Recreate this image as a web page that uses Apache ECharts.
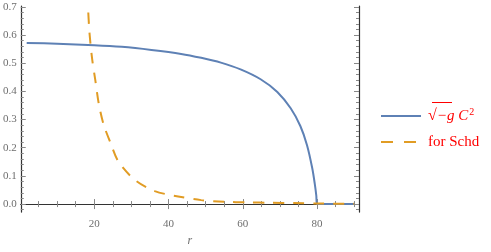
<!DOCTYPE html>
<html><head><meta charset="utf-8">
<script src="https://cdn.jsdelivr.net/npm/echarts@6/dist/echarts.min.js"></script>
<style>html,body{margin:0;padding:0;background:#fff}#c{width:491px;height:252px}</style>
</head><body><div id="c"></div>
<script>
// data
const blueR = [1.8, 10, 20, 27.4, 35.4, 43.4, 48.8, 54.1, 59.4, 64.8, 69.3, 72.9, 75.5, 77.3, 78.7, 79.4, 79.8, 80, 85, 90];
const blueV = [0.572, 0.569, 0.564, 0.558, 0.547, 0.533, 0.519, 0.502, 0.478, 0.443, 0.398, 0.340, 0.277, 0.209, 0.128, 0.071, 0.030, 0, 0, 0];
const schdR = [18, 18.3, 18.7, 19.4, 20.3, 21.2, 22.5, 24.3, 26.5, 31.0, 36.3, 42.6, 48.8, 55.0, 61.3, 67.5, 73.7, 80, 90];
const schdV = [0.75, 0.70, 0.610, 0.518, 0.438, 0.357, 0.283, 0.220, 0.151, 0.085, 0.046, 0.027, 0.014, 0.008, 0.006, 0.0048, 0.0034, 0.002, 0.001];
const seriesNames = ['sqrtg', 'for Schd'];
const xMajorTicks = [20, 40, 60, 80];
const xMinorTicks = [5, 10, 15, 25, 30, 35, 45, 50, 55, 65, 70, 75, 85, 90];
const yMajorTicks = [0, 0.1, 0.2, 0.3, 0.4, 0.5, 0.6, 0.7];
const yMinorTicks = [-0.02, 0.02, 0.04, 0.06, 0.08, 0.12, 0.14, 0.16, 0.18, 0.22, 0.24, 0.26, 0.28, 0.32, 0.34, 0.36, 0.38, 0.42, 0.44, 0.46, 0.48, 0.52, 0.54, 0.56, 0.58, 0.62, 0.64, 0.66, 0.68];
const xLabel = 'r';

const X_MIN = 0.2, X_MAX = 91.3, Y_MIN = -0.0285, Y_MAX = 0.703;
const FRAME = '#333', TICK = '#888', LABEL = '#6e6e6e', SERIF = 'Liberation Serif';
const BLUE = '#5E81B5', ORANGE = '#E19C24';

function xAx(pos, ticks, len, line, labels) {
  return {
    type: 'value', position: pos, min: X_MIN, max: X_MAX,
    axisLine: {show: line, lineStyle: {color: FRAME, width: 1.2}},
    axisTick: {show: true, inside: true, length: len, customValues: ticks, lineStyle: {color: TICK, width: 1}},
    axisLabel: labels ? {show: true, customValues: ticks, color: LABEL, fontFamily: SERIF, fontSize: 11, margin: 7} : {show: false},
    splitLine: {show: false}
  };
}
function yAx(pos, ticks, len, line, labels) {
  return {
    type: 'value', position: pos, min: Y_MIN, max: Y_MAX,
    axisLine: {show: line, lineStyle: {color: FRAME, width: 1.2}},
    axisTick: {show: true, inside: true, length: len, customValues: ticks, lineStyle: {color: TICK, width: 1}},
    axisLabel: labels ? {show: true, customValues: ticks, color: LABEL, fontFamily: SERIF, fontSize: 11, margin: 4,
      formatter: v => v.toFixed(1)} : {show: false},
    splitLine: {show: false}
  };
}
const xMain = xAx('bottom', xMajorTicks, 5, true, true);
xMain.name = xLabel;
xMain.nameLocation = 'middle';
xMain.nameGap = 19;
xMain.nameTextStyle = {fontFamily: SERIF, fontStyle: 'italic', fontSize: 12, color: LABEL};

const chart = echarts.init(document.getElementById('c'), null, {renderer: 'canvas'});
chart.setOption({
  animation: false,
  grid: {left: 18, right: 132, top: 6, bottom: 33, containLabel: false},
  xAxis: [xMain, xAx('bottom', xMinorTicks, 3, false, false), xAx('top', xMajorTicks, 5, true, false), xAx('top', xMinorTicks, 3, false, false)],
  yAxis: [yAx('left', yMajorTicks, 5, true, true), yAx('left', yMinorTicks, 3, false, false), yAx('right', yMajorTicks, 5, true, false), yAx('right', yMinorTicks, 3, false, false)],
  legend: {
    orient: 'vertical', left: 376, top: 102, itemWidth: 40, itemHeight: 2, itemGap: 8,
    data: [
      {name: seriesNames[0], icon: 'path://M0,0H40V2H0Z'},
      {name: seriesNames[1], icon: 'path://M0,0H12V2H0Z M23,0H35V2H23Z M39.9,0H40V0.01H39.9Z'}
    ],
    formatter: name => name === 'sqrtg' ? '{r|√}{g|−g} {c|C}{s|2}' : '{t|' + name + '}',
    textStyle: {
      color: '#ff0000', fontFamily: SERIF, fontSize: 15, lineHeight: 18, padding: [0, 0, 0, 2],
      rich: {
        r: {color: '#ff0000', fontFamily: SERIF, fontSize: 16, lineHeight: 18},
        g: {color: '#ff0000', fontFamily: SERIF, fontSize: 15, fontStyle: 'italic', lineHeight: 18},
        c: {color: '#ff0000', fontFamily: SERIF, fontSize: 15, fontStyle: 'italic', lineHeight: 18},
        s: {color: '#ff0000', fontFamily: SERIF, fontSize: 10, verticalAlign: 'bottom', padding: [0, 0, 8, 1]},
        t: {color: '#ff0000', fontFamily: SERIF, fontSize: 15, lineHeight: 18}
      }
    }
  },
  graphic: [{type: 'line', shape: {x1: 432, y1: 102.5, x2: 452, y2: 102.5}, style: {stroke: '#ff0000', lineWidth: 1}}],
  series: [
    {name: seriesNames[0], type: 'line', xAxisIndex: 0, yAxisIndex: 0, showSymbol: false, symbol: 'none', clip: true, smooth: 0.3,
      data: blueR.map((r, i) => [r, blueV[i]]), lineStyle: {color: BLUE, width: 2}, itemStyle: {color: BLUE}},
    {name: seriesNames[1], type: 'line', xAxisIndex: 0, yAxisIndex: 0, showSymbol: false, symbol: 'none', clip: true, smooth: 0.3,
      data: schdR.map((r, i) => [r, schdV[i]]), lineStyle: {color: ORANGE, width: 2, type: [11, 9]}, itemStyle: {color: ORANGE}}
  ]
});
</script></body></html>
